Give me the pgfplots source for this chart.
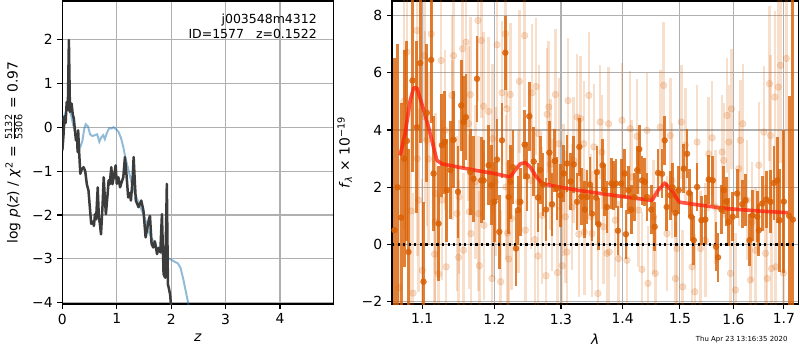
\documentclass[border=0pt]{standalone}
\usepackage{fontspec}
\setmainfont{DejaVu Sans}
\usepackage{pgfplots}
\pgfplotsset{compat=1.18}
\usepackage{pgfplotstable}

\definecolor{gridgray}{RGB}{176,176,176}
\definecolor{specorange}{RGB}{217,95,2}
\definecolor{priorblue}{RGB}{31,119,180}
\definecolor{pzgray}{RGB}{60,60,60}
\definecolor{modelred}{RGB}{255,30,10}

\pgfplotstableread{
x y
0.00 0.15
0.03 0.25
0.07 0.36
0.11 0.40
0.15 0.33
0.20 0.05
0.25 -0.20
0.30 -0.42
0.33 -0.45
0.37 -0.30
0.40 -0.05
0.43 0.07
0.47 0.02
0.51 -0.16
0.55 -0.20
0.60 -0.18
0.64 -0.16
0.68 -0.33
0.72 -0.22
0.75 -0.18
0.78 -0.27
0.82 -0.12
0.86 -0.02
0.90 -0.03
0.94 0.00
0.98 -0.04
1.03 -0.10
1.08 -0.25
1.12 -0.45
1.16 -0.70
1.21 -0.95
1.25 -1.15
1.30 -1.40
1.37 -1.62
1.43 -1.82
1.49 -1.98
1.55 -2.20
1.60 -2.42
1.65 -2.55
1.70 -2.65
1.77 -2.82
1.85 -2.90
1.92 -2.97
2.00 -3.02
2.07 -3.07
2.12 -3.10
2.17 -3.20
2.22 -3.45
2.27 -3.75
2.32 -4.05
}\priortab

\pgfplotstableread{
x y
0.00 -0.53
0.02 -0.20
0.04 0.25
0.06 0.10
0.08 0.58
0.10 0.40
0.12 1.99
0.14 0.35
0.17 0.54
0.19 0.30
0.21 0.20
0.23 -0.05
0.25 -0.30
0.27 -0.15
0.28 -0.56
0.29 -0.07
0.31 -0.60
0.33 -1.06
0.36 -0.95
0.39 -0.91
0.42 -1.00
0.45 -1.30
0.48 -1.44
0.51 -1.90
0.53 -2.20
0.56 -2.15
0.58 -2.25
0.60 -1.98
0.62 -2.10
0.65 -1.37
0.67 -2.05
0.69 -2.20
0.71 -2.44
0.74 -1.75
0.76 -1.14
0.78 -1.60
0.80 -1.98
0.83 -1.55
0.85 -1.21
0.87 -1.30
0.90 -0.91
0.92 -1.30
0.95 -1.10
0.98 -0.87
1.00 -1.29
1.03 -1.14
1.06 -1.37
1.09 -1.25
1.12 -1.14
1.15 -0.68
1.18 -1.10
1.21 -1.60
1.24 -1.50
1.26 -1.67
1.29 -1.20
1.31 -0.68
1.33 -1.20
1.35 -1.67
1.40 -1.82
1.45 -1.67
1.49 -1.90
1.53 -2.51
1.56 -2.30
1.59 -2.10
1.61 -2.02
1.64 -2.66
1.67 -2.74
1.70 -2.60
1.74 -2.89
1.77 -2.75
1.80 -2.85
1.83 -1.98
1.86 -3.35
1.89 -3.43
1.92 -1.29
1.94 -3.58
1.96 -3.69
1.98 -3.81
2.00 -4.10
}\pztab

\pgfplotstableread{
x y e
1.0700 -1.50 4.5
1.0760 5.00 4.5
1.0799 6.72 4.0
1.0855 1.17 3.6
1.0880 -1.70 3.5
1.0930 7.48 3.5
1.0935 3.00 3.4
1.0952 1.55 3.2
1.1000 -0.90 3.2
1.1030 6.60 3.0
1.1040 4.45 3.0
1.1062 3.64 3.0
1.1084 2.99 3.0
1.1120 7.36 3.0
1.1165 -0.34 2.8
1.1174 0.79 2.8
1.1180 1.78 2.8
1.1219 -1.03 2.8
1.1255 6.43 2.8
1.1264 1.55 2.8
1.1309 3.99 2.8
1.1323 -0.78 2.8
1.1401 5.21 2.8
1.1410 3.64 2.8
1.1424 6.60 2.8
1.1470 1.08 2.7
1.1493 -0.45 2.7
1.1500 1.66 2.7
1.1548 6.84 2.8
1.1562 -0.20 2.7
1.1595 7.07 2.8
1.1632 4.22 2.7
1.1641 1.14 2.7
1.1656 5.24 2.7
1.1665 0.38 2.6
1.1726 2.19 2.7
1.1764 7.83 2.8
1.1773 1.08 2.7
1.1783 -0.74 2.6
1.1811 7.13 2.7
1.1844 4.83 2.6
1.1850 0.67 2.6
1.1916 4.65 2.6
1.1964 -1.19 2.6
1.1970 3.70 2.6
1.1975 1.45 2.6
1.2012 2.19 2.6
1.2036 6.98 2.6
1.2090 -1.30 2.5
1.2109 5.30 2.5
1.2158 7.36 2.6
1.2168 2.01 2.5
1.2182 4.74 2.5
1.2190 0.40 2.5
1.2207 -0.51 2.5
1.2231 5.24 2.5
1.2246 0.91 2.5
1.2355 1.49 2.5
1.2365 5.70 2.5
1.2444 7.30 2.5
1.2455 0.50 2.5
1.2540 2.24 2.4
1.2555 5.30 2.4
1.2596 0.17 2.4
1.2616 5.52 2.4
1.2646 -0.40 2.4
1.2657 3.87 2.4
1.2708 1.02 2.4
1.2768 -1.09 2.4
1.2785 4.55 2.3
1.2810 4.80 2.3
1.2836 2.80 2.3
1.2860 1.37 2.3
1.2914 5.24 2.3
1.2945 -0.98 2.3
1.2966 3.52 2.3
1.3018 -0.74 2.3
1.3043 1.90 2.3
1.3070 0.97 2.3
1.3095 -0.26 2.3
1.3112 5.03 2.2
1.3176 1.31 2.2
1.3201 2.94 2.2
1.3254 4.45 2.2
1.3282 0.36 2.2
1.3309 4.40 2.2
1.3362 3.52 2.2
1.3370 0.44 2.2
1.3443 5.21 2.2
1.3480 0.97 2.2
1.3495 0.38 2.2
1.3525 3.41 2.2
1.3590 -1.71 2.0
1.3629 4.28 2.0
1.3656 3.23 2.0
1.3684 0.62 2.0
1.3739 -0.31 2.0
1.3766 4.22 2.0
1.3777 -0.26 2.0
1.3877 0.85 2.0
1.3933 -0.49 2.0
1.3990 4.34 2.0
1.4074 -0.55 2.0
1.4130 4.05 2.0
1.4148 2.36 2.0
1.4245 3.78 2.0
1.4273 1.20 2.0
1.4331 -0.87 2.0
1.4418 3.99 2.0
1.4435 -1.36 2.0
1.4534 0.97 2.0
1.4563 -1.01 2.0
1.4651 4.10 2.0
1.4710 5.56 2.2
1.4769 0.38 2.0
1.4829 3.81 2.0
1.4859 2.24 2.0
1.4919 -1.19 2.0
1.4949 -0.14 2.0
1.5027 4.28 2.0
1.5051 -1.48 2.0
1.5100 3.47 2.0
1.5222 -0.78 2.0
1.5272 -1.65 2.0
1.5314 3.58 2.0
1.5375 -0.14 2.0
1.5468 0.15 2.0
1.5530 3.17 2.0
1.5593 3.73 2.0
1.5656 1.31 2.0
1.5783 3.23 2.0
1.5813 2.94 2.0
1.5877 4.51 2.0
1.5909 3.58 2.0
1.5941 -1.01 2.0
1.5960 4.74 2.1
1.6038 -1.59 2.0
1.6102 2.65 2.0
1.6134 3.64 2.1
1.6180 4.22 2.1
1.6265 1.55 2.1
1.6331 -1.24 2.1
1.6363 0.79 2.1
1.6430 -0.20 2.2
1.6496 2.77 2.2
1.6596 3.93 2.3
1.6629 -0.31 2.4
1.6662 -1.19 2.5
1.6709 5.62 2.7
1.6730 3.81 2.8
1.6750 -0.84 2.8
1.6817 5.15 3.0
1.6834 -0.78 3.0
1.6885 5.50 3.2
1.6932 6.26 3.4
1.6990 -1.00 4.0
1.7050 6.50 4.5
}\lighttab

\pgfplotstableread{
x y e
1.0640 0.50 6.0
1.0680 2.00 5.0
1.0725 0.94 4.0
1.0765 3.00 3.8
1.0799 3.62 3.5
1.0820 -0.26 3.6
1.0873 5.73 3.2
1.0930 4.10 3.0
1.0974 6.34 2.8
1.1018 -1.30 2.8
1.1062 4.60 2.4
1.1120 6.45 2.2
1.1152 2.48 2.0
1.1219 0.73 2.0
1.1264 3.47 1.8
1.1300 3.58 1.8
1.1332 1.90 1.8
1.1380 2.60 1.7
1.1424 3.66 1.7
1.1484 1.84 1.6
1.1530 4.86 1.6
1.1562 4.28 1.6
1.1595 4.45 1.5
1.1656 2.53 1.5
1.1700 2.30 1.5
1.1750 5.79 1.5
1.1811 2.24 1.5
1.1844 2.24 1.4
1.1916 2.77 1.4
1.1954 2.07 1.4
1.2000 1.50 1.4
1.2036 2.97 1.4
1.2070 0.44 1.3
1.2109 3.64 1.3
1.2158 6.70 1.3
1.2207 1.66 1.3
1.2231 2.19 1.3
1.2270 2.70 1.3
1.2315 -0.14 1.3
1.2345 1.20 1.2
1.2380 1.49 1.2
1.2444 3.49 1.2
1.2479 2.38 1.2
1.2514 4.48 1.2
1.2580 2.90 1.2
1.2646 1.64 1.2
1.2681 2.60 1.2
1.2720 2.10 1.1
1.2768 1.22 1.1
1.2819 3.21 1.1
1.2860 1.41 1.1
1.2902 2.92 1.1
1.2938 1.95 1.1
1.2990 1.72 1.1
1.3043 2.48 1.0
1.3095 2.83 1.0
1.3150 2.20 1.0
1.3201 2.80 1.0
1.3254 1.49 1.0
1.3291 3.41 1.0
1.3323 1.67 1.0
1.3377 1.22 1.0
1.3414 1.66 0.95
1.3460 2.10 0.95
1.3495 1.08 0.95
1.3560 1.64 0.95
1.3574 2.53 0.9
1.3601 0.71 0.9
1.3667 2.77 0.9
1.3700 1.90 0.9
1.3739 1.31 0.9
1.3811 2.13 0.9
1.3850 2.07 0.85
1.3889 2.13 0.85
1.3922 0.48 0.85
1.3978 2.13 0.85
1.4035 2.48 0.85
1.4057 0.36 0.85
1.4102 1.90 0.85
1.4148 1.22 0.85
1.4205 1.66 0.85
1.4250 2.60 0.85
1.4285 3.33 0.85
1.4331 2.24 0.85
1.4377 2.19 0.85
1.4418 1.66 0.85
1.4493 1.22 0.85
1.4552 0.62 0.85
1.4611 2.50 0.85
1.4681 2.47 0.85
1.4729 3.64 0.85
1.4764 1.31 0.85
1.4829 1.72 0.85
1.4870 2.00 0.85
1.4919 1.10 0.85
1.4979 1.90 0.85
1.5069 2.65 0.85
1.5130 3.17 0.85
1.5170 1.80 0.85
1.5207 0.97 0.85
1.5253 0.15 0.85
1.5314 2.01 0.85
1.5394 0.85 0.85
1.5468 0.87 0.85
1.5530 2.27 0.85
1.5606 2.24 0.85
1.5668 -0.08 0.85
1.5705 -0.45 0.85
1.5769 1.22 0.85
1.5813 1.90 0.85
1.5860 1.50 0.85
1.5909 0.79 0.85
1.5986 0.97 0.85
1.6070 1.78 0.85
1.6168 1.41 0.85
1.6232 1.55 0.9
1.6311 0.15 0.9
1.6363 1.02 0.9
1.6463 0.97 0.9
1.6496 0.50 0.9
1.6562 1.43 0.95
1.6643 1.57 1.0
1.6730 1.49 1.1
1.6797 2.15 1.3
1.6865 2.24 1.5
1.6912 0.85 1.8
1.7000 1.50 2.5
1.7110 1.00 4.2
1.7185 0.87 9.0
}\darktab

\pgfplotstableread{
x y
1.0712 3.11
1.0777 3.87
1.0842 5.03
1.0887 5.47
1.0930 5.47
1.0996 4.91
1.1085 4.10
1.1152 3.40
1.1197 2.94
1.1265 2.82
1.1497 2.70
1.1733 2.59
1.1974 2.49
1.2230 2.36
1.2300 2.59
1.2380 2.82
1.2455 2.86
1.2530 2.70
1.2605 2.41
1.2707 2.13
1.2965 2.01
1.3279 1.89
1.3572 1.80
1.4046 1.66
1.4505 1.54
1.4610 1.89
1.4730 2.15
1.4850 1.89
1.4990 1.48
1.5270 1.40
1.5890 1.25
1.6590 1.16
1.7090 1.11
}\modeltab

\pgfplotsset{mplstyle/.style={
  scale only axis,
  anchor=south west,
  height=218.2pt,
  tick align=outside,
  tick pos=left,
  major tick length=3.5pt,
  every tick/.style={black, line width=0.8pt},
  axis line style={line width=0.8pt},
  grid=major,
  major grid style={gridgray, line width=0.8pt},
  /pgf/number format/assume math mode=true,
  tick label style={font=\fontsize{10}{12}\selectfont},
  label style={font=\fontsize{10}{12}\selectfont},
}}

\begin{document}
\begin{tikzpicture}
\useasboundingbox (0,0) rectangle (576pt,252pt);

\begin{axis}[mplstyle,
  at={(44.9pt,33.1pt)}, width=195.1pt,
  xmin=0, xmax=4.98, ymin=-4.03, ymax=2.88,
  xtick={0,1,2,3,4},
  ytick={-4,-3,-2,-1,0,1,2},
  yticklabels={−4,−3,−2,−1,0,1,2},
  xlabel={\textit{z}},
  ylabel={log \textit{p}(\textit{z}) / \textit{χ}\textsuperscript{2} = $\frac{\mbox{\fontsize{7}{7}\selectfont 5132}}{\mbox{\fontsize{7}{7}\selectfont 5306}}$ = 0.97},
]
\addplot[priorblue, opacity=0.5, line width=1.4pt] table[x=x,y=y] {\priortab};
\addplot[pzgray, line width=1.8pt, line join=round] table[x=x,y=y] {\pztab};
\node[anchor=north east, align=right, inner sep=0pt, font=\fontsize{9}{10.5}\selectfont]
  at (rel axis cs:0.94,0.958) {j003548m4312\\ID=1577\ \ \ z=0.1522};
\end{axis}

\begin{axis}[mplstyle,
  at={(282.2pt,33.1pt)}, width=292.7pt,
  xmode=log,
  xmin=1.0607, xmax=1.7303, ymin=-2.08, ymax=8.51,
  xtick={1.1,1.2,1.3,1.4,1.5,1.6,1.7},
  xticklabels={1.1,1.2,1.3,1.4,1.5,1.6,1.7},
  ytick={-2,0,2,4,6,8},
  yticklabels={−2,0,2,4,6,8},
  xlabel={\textit{λ}},
  ylabel={\textit{f}\textsubscript{\textit{λ}} × 10\textsuperscript{−19}},
]
\addplot[only marks, mark=*, mark size=2.4pt, specorange, opacity=0.2,
  mark options={draw=none, fill=specorange},
  error bars/.cd, y dir=both, y explicit, error mark=none,
  error bar style={line width=1.8pt, specorange, opacity=0.2}]
  table[x=x, y=y, y error=e] {\lighttab};
\addplot[only marks, mark=*, mark size=2.1pt, specorange, opacity=0.8,
  mark options={draw=none, fill=specorange},
  error bars/.cd, y dir=both, y explicit, error mark=none,
  error bar style={line width=2pt, specorange, opacity=0.8}]
  table[x=x, y=y, y error=e] {\darktab};
\addplot[black, line width=1.6pt, dash pattern=on 1.6pt off 2.4pt] coordinates {(1.0607,0) (1.7303,0)};
\addplot[modelred, opacity=0.75, line width=2.6pt, line join=round] table[x=x,y=y] {\modeltab};
\end{axis}

\node[font=\fontsize{5}{6}\selectfont] at (534pt,7.3pt) {Thu Apr 23 13:16:35 2020};
\end{tikzpicture}
\end{document}
